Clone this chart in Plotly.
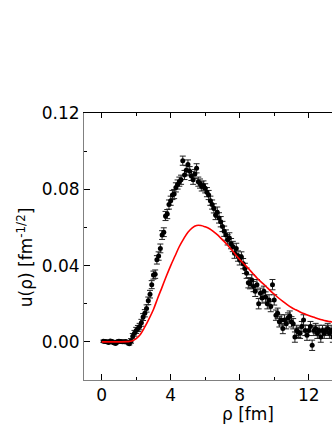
import plotly.graph_objects as go

# measured data: rho [fm], u(rho), error
rho = [round(0.1 * i, 1) for i in range(1, 135)]
u_data = [
    0.0003, 0.0002, 0.0001, -0.0003, 0.0004, 0.0002, -0.0005, -0.0008, 0.0001, 0.0003,
    0.0002, 0.0001, 0.0000, 0.0002, -0.0004, -0.0010, 0.0005, 0.0030, 0.0045, 0.0060,
    0.0070, 0.0080, 0.0100, 0.0130, 0.0150, 0.0175, 0.0215, 0.0250, 0.0300, 0.0350,
    0.0355, 0.0430, 0.0450, 0.0490, 0.0560, 0.0575, 0.0660, 0.0670, 0.0720, 0.0740,
    0.0770, 0.0775, 0.0810, 0.0825, 0.0840, 0.0850, 0.0950, 0.0875, 0.0900, 0.0930,
    0.0895, 0.0870, 0.0850, 0.0880, 0.0910, 0.0840, 0.0830, 0.0815, 0.0820, 0.0805,
    0.0785, 0.0770, 0.0740, 0.0720, 0.0700, 0.0665, 0.0680, 0.0650, 0.0630, 0.0605,
    0.0580, 0.0560, 0.0535, 0.0545, 0.0515, 0.0500, 0.0465, 0.0490, 0.0450, 0.0430,
    0.0445, 0.0410, 0.0385, 0.0360, 0.0310, 0.0305, 0.0325, 0.0290, 0.0265, 0.0300,
    0.0200, 0.0255, 0.0230, 0.0265, 0.0235, 0.0200, 0.0220, 0.0185, 0.0300, 0.0220,
    0.0140, 0.0150, 0.0105, 0.0115, 0.0070, 0.0115, 0.0095, 0.0125, 0.0135, 0.0105,
    0.0095, 0.0025, 0.0060, 0.0050, 0.0045, 0.0080, 0.0115, 0.0060, 0.0035, 0.0060,
    0.0080, -0.0018, 0.0060, 0.0070, 0.0045, 0.0060, 0.0025, 0.0060, 0.0045, 0.0060,
    0.0070, 0.0045, 0.0060, 0.0025,
]
u_err = (
    [0.0006] * 16
    + [0.0012, 0.0014, 0.0015, 0.0016, 0.0016, 0.0017, 0.0018, 0.0018, 0.0019, 0.0019,
       0.0020, 0.0020, 0.0021, 0.0021, 0.0022, 0.0022, 0.0022, 0.0023, 0.0023, 0.0023]
    + [0.0024] * 30
    + [0.0027] * 68
)

# theory curve
rho_th = [0.0, 0.5, 1.0, 1.5, 1.75, 2.0, 2.25, 2.5, 2.75, 3.0, 3.25, 3.5, 3.75, 4.0,
          4.25, 4.5, 4.75, 5.0, 5.25, 5.5, 5.75, 6.0, 6.25, 6.5, 6.75, 7.0, 7.25, 7.5,
          7.75, 8.0, 8.25, 8.5, 8.75, 9.0, 9.25, 9.5, 9.75, 10.0, 10.25, 10.5, 10.75,
          11.0, 11.25, 11.5, 11.75, 12.0, 12.25, 12.5, 12.75, 13.0, 13.25, 13.5]
u_th = [0.0, 0.0, 0.0, 0.0001, 0.0004, 0.0017, 0.0040, 0.0078, 0.0122, 0.0170, 0.0230,
        0.0287, 0.0345, 0.0400, 0.0450, 0.0500, 0.0540, 0.0575, 0.0598, 0.0610, 0.0610,
        0.0603, 0.0593, 0.0577, 0.0558, 0.0535, 0.0512, 0.0486, 0.0458, 0.0432, 0.0408,
        0.0385, 0.0360, 0.0335, 0.0313, 0.0293, 0.0270, 0.0250, 0.0230, 0.0212, 0.0195,
        0.0180, 0.0168, 0.0157, 0.0147, 0.0138, 0.0130, 0.0123, 0.0116, 0.0110, 0.0106,
        0.0102]

x_ticks = [0, 4, 8, 12]
x_ticktext = ["0", "4", "8", "12"]
y_ticks = [0.00, 0.04, 0.08, 0.12]
y_ticktext = ["0.00", "0.04", "0.08", "0.12"]

FONT = "DejaVu Sans, Liberation Sans, sans-serif"
FS = 17

fig = go.Figure()
fig.add_trace(go.Scatter(
    x=rho, y=u_data, mode="markers",
    marker=dict(color="black", size=5),
    error_y=dict(type="data", array=u_err, color="#222222", thickness=1, width=3),
    showlegend=False, cliponaxis=True,
))
fig.add_trace(go.Scatter(
    x=rho_th, y=u_th, mode="lines", line=dict(color="red", width=1.6, shape="spline"),
    showlegend=False,
))
fig.add_trace(go.Scatter(x=[0], y=[0], xaxis="x2", mode="markers",
                         marker=dict(opacity=0), showlegend=False, hoverinfo="skip"))

xr = [-1.026, 13.35]
fig.update_layout(
    width=332, height=430,
    margin=dict(l=84, r=0, t=113, b=50),
    paper_bgcolor="white", plot_bgcolor="white",
    font=dict(family=FONT, color="black", size=FS),
    xaxis=dict(
        range=xr, tickvals=x_ticks, ticktext=x_ticktext,
        ticks="inside", ticklen=6, tickcolor="black", tickwidth=1,
        minor=dict(tickvals=[2, 6, 10], ticks="inside", ticklen=3, tickcolor="black"),
        showline=True, linecolor="#808080", linewidth=1,
        showgrid=False, zeroline=False, tickfont=dict(size=FS),
    ),
    xaxis2=dict(
        range=xr, overlaying="x", side="top", tickvals=x_ticks,
        ticks="inside", ticklen=5, tickcolor="black",
        minor=dict(tickvals=[2, 6, 10], ticks="inside", ticklen=3, tickcolor="black"),
        showticklabels=False, showline=True, linecolor="black", linewidth=1,
        showgrid=False, zeroline=False,
    ),
    yaxis=dict(
        range=[-0.02, 0.12], tickvals=y_ticks, ticktext=y_ticktext,
        ticks="inside", ticklen=6, tickcolor="black",
        minor=dict(tickvals=[0.02, 0.06, 0.10], ticks="inside", ticklen=3, tickcolor="black"),
        showline=True, linecolor="#808080", linewidth=1,
        showgrid=False, zeroline=False, tickfont=dict(size=FS),
    ),
    annotations=[
        dict(text="u(ρ) [fm<sup>-1/2</sup>]", xref="paper", yref="paper",
             x=-0.238, y=0.46, textangle=-90, showarrow=False,
             xanchor="center", yanchor="middle", font=dict(size=FS)),
        dict(text="ρ [fm]", xref="paper", yref="paper",
             x=0.661, y=-0.126, showarrow=False,
             xanchor="center", yanchor="middle", font=dict(size=FS)),
    ],
)

fig.write_html(
    "out.html",
    config={"displayModeBar": False},
    post_script="document.body.style.margin='0';document.body.style.overflow='hidden';",
)
